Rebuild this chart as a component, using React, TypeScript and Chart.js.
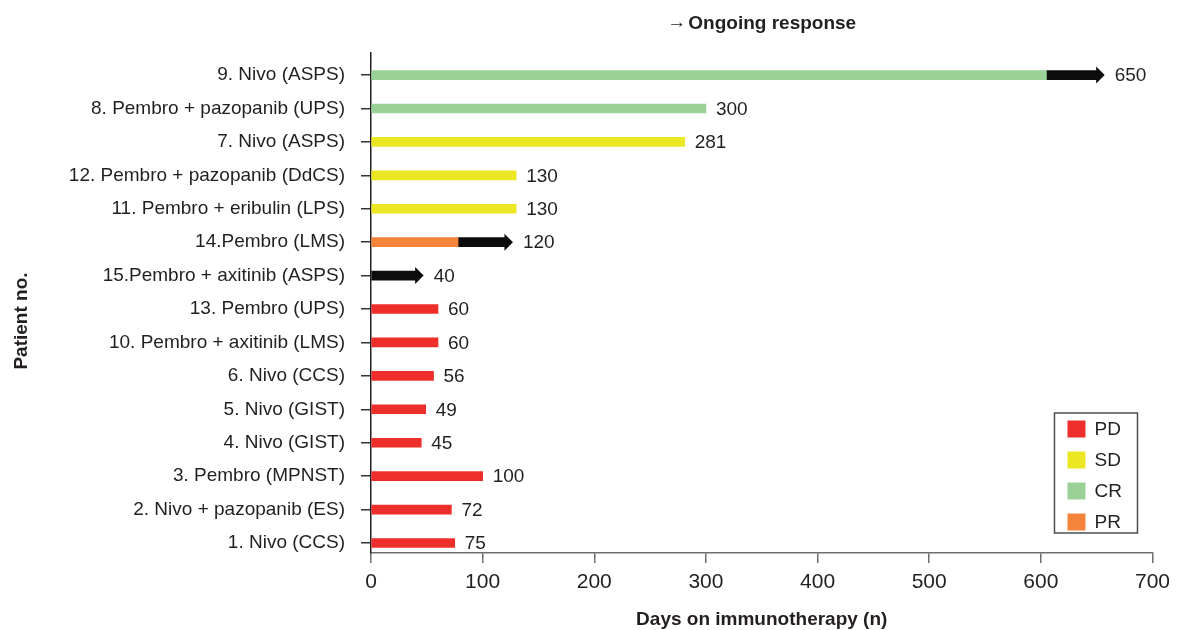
import React, { useEffect, useRef } from "react";
import { Chart, registerables } from "chart.js";

Chart.register(...registerables);

// Rows from top to bottom
const categories = [
  "9. Nivo (ASPS)",
  "8. Pembro + pazopanib (UPS)",
  "7. Nivo (ASPS)",
  "12. Pembro + pazopanib (DdCS)",
  "11. Pembro + eribulin (LPS)",
  "14.Pembro (LMS)",
  "15.Pembro + axitinib (ASPS)",
  "13. Pembro (UPS)",
  "10. Pembro + axitinib (LMS)",
  "6. Nivo (CCS)",
  "5. Nivo (GIST)",
  "4. Nivo (GIST)",
  "3. Pembro (MPNST)",
  "2. Nivo + pazopanib (ES)",
  "1. Nivo (CCS)",
];
// total days on immunotherapy (label values)
const days = [650, 300, 281, 130, 130, 120, 40, 60, 60, 56, 49, 45, 100, 72, 75];
// length of the coloured response segment
const responseDays = [605, 300, 281, 130, 130, 78, 0, 60, 60, 56, 49, 45, 100, 72, 75];
// response type per row
const responses = ["CR", "CR", "SD", "SD", "SD", "PR", "", "PD", "PD", "PD", "PD", "PD", "PD", "PD", "PD"];
// ongoing response flag per row
const ongoing = [true, false, false, false, false, true, true, false, false, false, false, false, false, false, false];

const legendLabels = ["PD", "SD", "CR", "PR"];
const xTicks = [0, 100, 200, 300, 400, 500, 600, 700];

const responseColors: Record<string, string> = {
  PD: "#ee2e2a",
  SD: "#ebe723",
  CR: "#9bd196",
  PR: "#f5843b",
  "": "rgba(0,0,0,0)",
};
const BLACK = "#0c0c0c";
const TEXT = "#231f20";
const FONT = "'Liberation Sans', Arial, Helvetica, sans-serif";

const customPlugin = {
  id: "customDecor",
  afterDatasetsDraw(chart: any) {
    const ctx = chart.ctx as CanvasRenderingContext2D;
    const xs = chart.scales.x;
    const ys = chart.scales.y;
    ctx.save();
    // arrowheads
    ctx.fillStyle = BLACK;
    days.forEach((d, i) => {
      if (!ongoing[i]) return;
      const px = xs.getPixelForValue(d);
      const py = ys.getPixelForValue(i);
      ctx.beginPath();
      ctx.moveTo(px - 0.5, py - 8.5);
      ctx.lineTo(px + 8, py);
      ctx.lineTo(px - 0.5, py + 8.5);
      ctx.closePath();
      ctx.fill();
    });
    // value labels
    ctx.fillStyle = TEXT;
    ctx.font = `19px ${FONT}`;
    ctx.textAlign = "left";
    ctx.textBaseline = "middle";
    days.forEach((d, i) => {
      const px = xs.getPixelForValue(d) + (ongoing[i] ? 8 : 0) + 10;
      const py = ys.getPixelForValue(i) + 1;
      ctx.fillText(String(d), px, py);
    });
    ctx.restore();
  },
  afterDraw(chart: any) {
    const ctx = chart.ctx as CanvasRenderingContext2D;
    const area = chart.chartArea;
    const cx = (area.left + area.right) / 2;
    ctx.save();
    ctx.fillStyle = TEXT;
    ctx.textBaseline = "middle";
    // top title
    ctx.font = `19px ${FONT}`;
    const arrow = "\u2192";
    const aw = ctx.measureText(arrow).width;
    ctx.font = `bold 19px ${FONT}`;
    const title = "Ongoing response";
    const tw = ctx.measureText(title).width;
    const total = aw + 2 + tw;
    const sx = cx - total / 2;
    ctx.textAlign = "left";
    ctx.font = `19px ${FONT}`;
    ctx.fillText(arrow, sx, 23);
    ctx.font = `bold 19px ${FONT}`;
    ctx.fillText(title, sx + aw + 2, 24);
    // x axis title
    ctx.textAlign = "center";
    ctx.fillText("Days on immunotherapy (n)", cx, 620);
    // y axis title
    ctx.save();
    ctx.translate(22, 321);
    ctx.rotate(-Math.PI / 2);
    ctx.fillText("Patient no.", 0, 0);
    ctx.restore();
    // legend
    const bx = area.right - 98;
    const by = area.bottom - 140;
    const bw = 83;
    const bh = 120;
    ctx.strokeStyle = "#4d4d4d";
    ctx.lineWidth = 1.5;
    ctx.strokeRect(bx, by, bw, bh);
    ctx.font = `19px ${FONT}`;
    ctx.textAlign = "left";
    legendLabels.forEach((lab, k) => {
      const cy = by + 16 + k * 31;
      ctx.fillStyle = responseColors[lab];
      ctx.fillRect(bx + 13, cy - 8.5, 18, 17);
      ctx.fillStyle = TEXT;
      ctx.fillText(lab, bx + 40, cy + 1);
    });
    ctx.restore();
  },
};

export default function App() {
  const ref = useRef<HTMLCanvasElement | null>(null);
  useEffect(() => {
    if (!ref.current) return;
    const chart = new Chart(ref.current, {
      type: "bar",
      data: {
        datasets: [
          {
            label: "response",
            data: categories.map((_, i) => ({ x: [0, responseDays[i]], y: i })) as any,
            backgroundColor: responses.map((r) => responseColors[r]),
            barThickness: 9,
            grouped: false,
            borderWidth: 0,
            borderSkipped: false,
          } as any,
          {
            label: "ongoing",
            data: categories
              .map((_, i) => (ongoing[i] ? { x: [responseDays[i], days[i]], y: i } : null))
              .filter((v) => v !== null) as any,
            backgroundColor: BLACK,
            barThickness: 9,
            grouped: false,
            borderWidth: 0,
            borderSkipped: false,
          } as any,
        ],
      },
      options: {
        indexAxis: "y",
        responsive: false,
        animation: false,
        events: [],
        layout: { padding: { left: 0, right: 21, top: 53, bottom: 0 } },
        plugins: {
          legend: { display: false },
          tooltip: { enabled: false },
          title: { display: false },
        },
        scales: {
          x: {
            type: "linear",
            min: 0,
            max: 700,
            offset: false,
            afterBuildTicks: (scale: any) => {
              scale.ticks = xTicks.map((v) => ({ value: v }));
            },
            afterFit: (scale: any) => {
              scale.height = 77;
            },
            ticks: {
              font: { size: 21, family: FONT },
              color: TEXT,
              padding: 7,
              maxRotation: 0,
              autoSkip: false,
            },
            grid: {
              offset: false,
              drawOnChartArea: false,
              drawTicks: true,
              tickLength: 10,
              color: "#6d6d6d",
              lineWidth: 1.5,
            },
            border: { color: "#6d6d6d", width: 1.5 },
          },
          y: {
            type: "linear",
            reverse: true,
            offset: false,
            min: -0.66,
            max: 14.3,
            afterBuildTicks: (scale: any) => {
              scale.ticks = categories.map((_, i) => ({ value: i }));
            },
            afterFit: (scale: any) => {
              scale.width = 371;
            },
            ticks: {
              callback: (v: any) => categories[Math.round(Number(v))] ?? "",
              font: { size: 19, family: FONT },
              color: TEXT,
              padding: 16,
              autoSkip: false,
            },
            grid: {
              offset: false,
              drawOnChartArea: false,
              drawTicks: true,
              tickLength: 10,
              color: "#333333",
              lineWidth: 1.5,
            },
            border: { color: "#231f20", width: 1.5 },
          },
        },
      } as any,
      plugins: [customPlugin],
    });
    return () => chart.destroy();
  }, []);
  return (
    <div style={{ position: "fixed", left: 0, top: 0, width: 1177, height: 630, background: "#fff" }}>
      <canvas ref={ref} width={1177} height={630} style={{ display: "block" }} />
    </div>
  );
}
